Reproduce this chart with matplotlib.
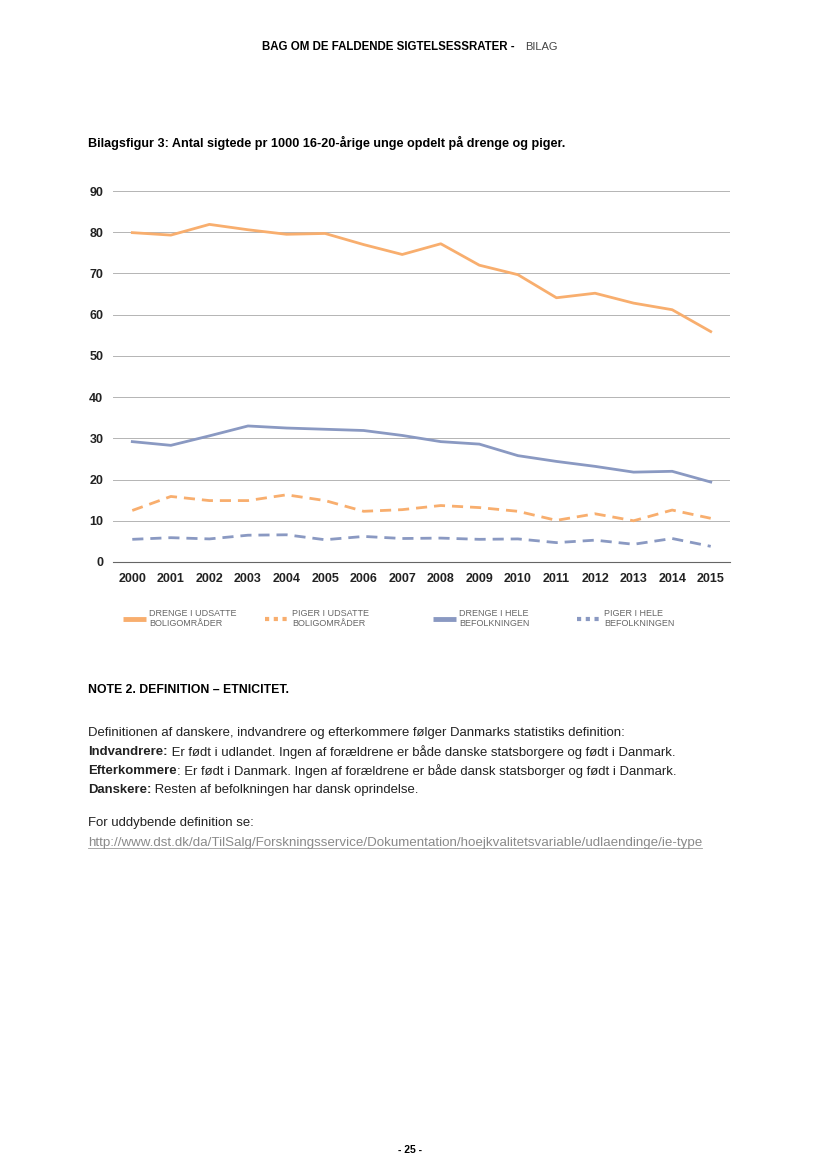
# Bilagsfigur 3: sigtede pr 1000 16-20-aarige, drenge og piger

import matplotlib
matplotlib.use('Agg')
import matplotlib.pyplot as plt
from matplotlib.lines import Line2D
import numpy as np

plt.rcParams['font.family'] = ['Liberation Sans', 'DejaVu Sans']

# data
years = np.arange(2000, 2016)
drenge_udsatte = [79.9, 79.3, 81.9, 80.6, 79.5, 79.7, 77.0, 74.6, 77.2, 72.0, 69.7, 64.1, 65.2, 62.8, 61.2, 55.9]
piger_udsatte = [12.5, 15.9, 14.9, 14.9, 16.3, 14.9, 12.3, 12.7, 13.7, 13.2, 12.3, 10.1, 11.7, 10.0, 12.6, 10.6]
drenge_hele = [29.2, 28.3, 30.6, 33.0, 32.5, 32.2, 31.9, 30.7, 29.2, 28.6, 25.8, 24.4, 23.2, 21.8, 22.0, 19.4]
piger_hele = [5.5, 5.9, 5.6, 6.5, 6.6, 5.4, 6.2, 5.7, 5.8, 5.5, 5.6, 4.7, 5.3, 4.3, 5.7, 3.8]

labels = ['DRENGE I UDSATTE\nBOLIGOMRÅDER', 'PIGER I UDSATTE\nBOLIGOMRÅDER',
          'DRENGE I HELE\nBEFOLKNINGEN', 'PIGER I HELE\nBEFOLKNINGEN']
yticks = [0, 10, 20, 30, 40, 50, 60, 70, 80, 90]

orange = '#F8AE6E'
blue = '#8A99C2'
dash = (0, (4, 2.5))

fig = plt.figure(figsize=(8.28, 11.69), dpi=100)
ax = fig.add_axes([113/828, 1 - 562/1169, 617/828, 371/1169])

ax.plot(years, drenge_udsatte, '-', color=orange, lw=2)
ax.plot(years, piger_udsatte, color=orange, lw=2, ls=dash)
ax.plot(years, drenge_hele, '-', color=blue, lw=2)
ax.plot(years, piger_hele, color=blue, lw=2, ls=dash)

# axes
ax.set_xlim(1999.5, 2015.5)
ax.set_ylim(0, 90)
ax.set_yticks(yticks)
ax.set_xticks(years)
ax.grid(axis='y', color='#b4b4b4', lw=0.7)
ax.set_axisbelow(True)
for s in ['top', 'right', 'left']:
    ax.spines[s].set_visible(False)
ax.spines['bottom'].set_color('#666666')
ax.spines['bottom'].set_linewidth(0.8)
ax.tick_params(length=0, labelsize=9, colors='#222222')
ax.tick_params(axis='y', pad=7)
ax.tick_params(axis='x', pad=8)
for t in ax.get_xticklabels() + ax.get_yticklabels():
    t.set_fontweight('bold')
for l in ax.get_lines():
    l.set_clip_on(False)

# legend, one per entry so they sit where the reference has them
handles = [Line2D([], [], color=orange, lw=3.5, solid_capstyle='butt'),
           Line2D([], [], color=orange, lw=3, ls=(0, (1, 1.1))),
           Line2D([], [], color=blue, lw=3.5, solid_capstyle='butt'),
           Line2D([], [], color=blue, lw=3, ls=(0, (1, 1.1)))]
leg_x = [116, 258, 426, 570]
hlen = [2.5, 2.6, 2.5, 2.6]
for h, lab, lx, hl in zip(handles, labels, leg_x, hlen):
    leg = fig.legend([h], [lab], loc='upper left', bbox_to_anchor=(lx/828, 1 - 602/1169),
                     frameon=False, fontsize=6.5, handlelength=hl, handletextpad=0.4,
                     borderpad=0.3)
    for t in leg.get_texts():
        t.set_color('#666666')
        t.set_linespacing(1.05)

# page texts
fig.text(262/828, 1 - 47/1169, 'BAG OM DE FALDENDE SIGTELSESSRATER -', fontsize=8.3,
         fontweight='bold', va='center', ha='left')
fig.text(525/828, 1 - 47/1169, 'BILAG', fontsize=8, color='#444444', va='center', ha='left')
fig.text(88/828, 1 - 143/1169, 'Bilagsfigur 3: Antal sigtede pr 1000 16-20-årige unge opdelt på drenge og piger.',
         fontsize=9.1, fontweight='bold', va='center', ha='left')

fig.text(88/828, 1 - 690/1169, 'NOTE 2. DEFINITION – ETNICITET.', fontsize=8.8,
         fontweight='bold', va='center', ha='left')

body_fs = 9.45
fig.text(88/828, 1 - 733/1169,
         'Definitionen af danskere, indvandrere og efterkommere følger Danmarks statistiks definition:',
         fontsize=body_fs, va='center', ha='left', color='#222222')
rows = [('Indvandrere:', ' Er født i udlandet. Ingen af forældrene er både danske statsborgere og født i Danmark.', 752),
        ('Efterkommere', ': Er født i Danmark. Ingen af forældrene er både dansk statsborger og født i Danmark.', 771),
        ('Danskere:', ' Resten af befolkningen har dansk oprindelse.', 790)]
for b, r, yy in rows:
    tb = fig.text(88/828, 1 - yy/1169, b, fontsize=body_fs, fontweight='bold',
                  va='center', ha='left', color='#222222')
    ax.annotate(r, xy=(1, 0.5), xycoords=tb, va='center', ha='left',
                fontsize=body_fs, color='#222222')

fig.text(88/828, 1 - 823/1169, 'For uddybende definition se:', fontsize=body_fs,
         va='center', ha='left', color='#222222')
url = fig.text(88/828, 1 - 843/1169,
               'http://www.dst.dk/da/TilSalg/Forskningsservice/Dokumentation/hoejkvalitetsvariable/udlaendinge/ie-type',
               fontsize=9.6, va='center', ha='left', color='#8a8a8a')
r = fig.canvas.get_renderer()
bb = url.get_window_extent(renderer=r)
fig.add_artist(Line2D([bb.x0 / fig.bbox.width, bb.x1 / fig.bbox.width],
                      [(bb.y0 + 1) / fig.bbox.height] * 2, color='#9a9a9a', lw=0.6))

fig.text(410/828, 1 - 1150/1169, '- 25 -', fontsize=7.5, fontweight='bold',
         va='center', ha='center')

plt.savefig('out.png', dpi=100)
